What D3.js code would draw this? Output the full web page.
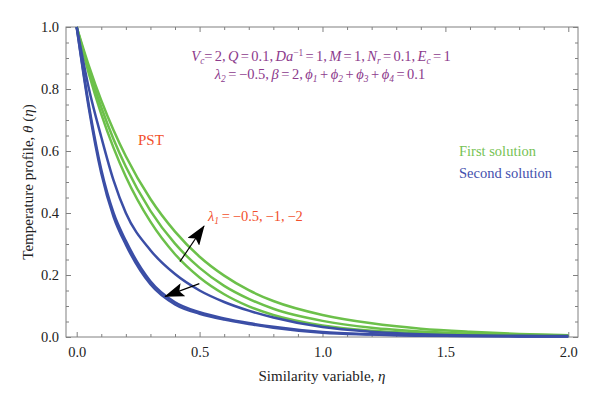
<!DOCTYPE html>
<html>
<head>
<meta charset="utf-8">
<script src="https://cdn.jsdelivr.net/npm/d3@7"></script>
<style>
  body { margin: 0; background: #fff; }
  svg { display: block; font-family: "Liberation Serif", "DejaVu Serif", serif; }
</style>
</head>
<body>
<div id="chart"></div>
<script>
// similarity variable grid
var eta = [0, 0.05, 0.1, 0.15, 0.2, 0.3, 0.4, 0.5, 0.6, 0.7, 0.8, 1.0, 1.2, 1.4, 1.6, 1.8, 2.0];

// first solution (green), lambda1 = -0.5, -1, -2
var first1 = [1, 0.874, 0.763, 0.667, 0.583, 0.445, 0.340, 0.259, 0.198, 0.151, 0.116, 0.071, 0.044, 0.027, 0.017, 0.010, 0.006];
var first2 = [1, 0.861, 0.741, 0.638, 0.549, 0.407, 0.301, 0.223, 0.165, 0.123, 0.091, 0.052, 0.030, 0.018, 0.011, 0.007, 0.005];
var first3 = [1, 0.848, 0.719, 0.610, 0.517, 0.372, 0.267, 0.192, 0.138, 0.099, 0.071, 0.037, 0.020, 0.012, 0.008, 0.005, 0.004];

// second solution (blue)
var second1 = [1, 0.800, 0.645, 0.505, 0.400, 0.280, 0.203, 0.150, 0.113, 0.085, 0.063, 0.032, 0.017, 0.009, 0.005, 0.004, 0.003];
var second2 = [1, 0.745, 0.540, 0.400, 0.310, 0.180, 0.112, 0.080, 0.060, 0.045, 0.033, 0.016, 0.009, 0.005, 0.003, 0.002, 0.002];
var second3 = [1, 0.735, 0.528, 0.388, 0.298, 0.170, 0.105, 0.075, 0.056, 0.042, 0.030, 0.014, 0.008, 0.004, 0.003, 0.002, 0.002];

var xMajor = [0, 0.5, 1.0, 1.5, 2.0];
var yMajor = [0, 0.2, 0.4, 0.6, 0.8, 1.0];

var green = "#6cc04a", blue = "#3b4ea6", purple = "#8c3a8c", red = "#f2502c", axisCol = "#808080";

var W = 600, H = 399;
var margin = {top: 27, left: 66, right: 22, bottom: 62},
    width = W - margin.left - margin.right,
    height = H - margin.top - margin.bottom;

var svg = d3.select("#chart").append("svg")
    .attr("width", W)
    .attr("height", H);

var g = svg.append("g")
    .attr("transform", "translate(" + margin.left + "," + margin.top + ")");

var x = d3.scaleLinear().domain([-0.0435, 2.0395]).range([0, width]);
var y = d3.scaleLinear().domain([0, 1]).range([height, 0]);

var xMinor = d3.range(0, 2.01, 0.1).filter(function(v) { return Math.abs(v * 2 - Math.round(v * 2)) > 1e-6; });
var yMinor = d3.range(0, 1.001, 0.05).filter(function(v) { return Math.abs(v * 5 - Math.round(v * 5)) > 1e-6; });

// axes: major + minor ticks on all four sides, pointing inward
function ticks(axis, vals, size, labels) {
    return axis.tickValues(vals).tickSize(size).tickSizeOuter(0)
        .tickFormat(labels ? d3.format(".1f") : "");
}

var sides = [
    {mk: function() { return d3.axisBottom(x); }, tr: "translate(0," + height + ")", maj: xMajor, min: xMinor, lab: true, cls: "bottom"},
    {mk: function() { return d3.axisTop(x); }, tr: null, maj: xMajor, min: xMinor, lab: false, cls: "top"},
    {mk: function() { return d3.axisLeft(y); }, tr: null, maj: yMajor, min: yMinor, lab: true, cls: "left"},
    {mk: function() { return d3.axisRight(y); }, tr: "translate(" + width + ",0)", maj: yMajor, min: yMinor, lab: false, cls: "right"}
];
sides.forEach(function(s) {
    var maj = g.append("g").attr("class", "axis " + s.cls).call(ticks(s.mk(), s.maj, -5, s.lab));
    var min = g.append("g").attr("class", "axis").call(ticks(s.mk(), s.min, -3, false));
    if (s.tr) { maj.attr("transform", s.tr); min.attr("transform", s.tr); }
});

g.selectAll(".axis .domain").remove();
g.selectAll(".axis line").attr("stroke", axisCol).attr("stroke-width", 1);
g.selectAll(".axis text")
    .attr("font-family", "Liberation Serif, serif")
    .attr("font-size", 14.5)
    .attr("fill", "#222");
// labels sit outside the frame
g.select(".axis.bottom").selectAll("text").attr("y", 10);
g.select(".axis.left").selectAll("text").attr("x", -7);

g.append("rect")
    .attr("width", width)
    .attr("height", height)
    .attr("fill", "none")
    .attr("stroke", axisCol)
    .attr("stroke-width", 1);

// curves
var line = d3.line()
    .x(function(d) { return x(d[0]); })
    .y(function(d) { return y(d[1]); })
    .curve(d3.curveMonotoneX);

var series = [
    {v: first1, c: green}, {v: first2, c: green}, {v: first3, c: green},
    {v: second1, c: blue}, {v: second2, c: blue}, {v: second3, c: blue}
];

g.selectAll(".curve")
    .data(series)
    .enter().append("path")
    .attr("class", "curve")
    .attr("fill", "none")
    .attr("stroke", function(d) { return d.c; })
    .attr("stroke-width", 2.5)
    .attr("d", function(d) { return line(eta.map(function(e, i) { return [e, d.v[i]]; })); });

// arrows
svg.append("defs").append("marker")
    .attr("id", "head")
    .attr("markerUnits", "userSpaceOnUse")
    .attr("viewBox", "0 0 20 14")
    .attr("markerWidth", 20)
    .attr("markerHeight", 14)
    .attr("refX", 19)
    .attr("refY", 7)
    .attr("orient", "auto")
    .append("path")
    .attr("d", "M0,0 L20,7 L0,14 L4,7 Z")
    .attr("fill", "#000");

var arrows = [
    {from: [0.42, 0.243], to: [0.518, 0.358]},
    {from: [0.499, 0.172], to: [0.36, 0.131]}
];
g.selectAll(".arrow")
    .data(arrows)
    .enter().append("line")
    .attr("x1", function(d) { return x(d.from[0]); })
    .attr("y1", function(d) { return y(d.from[1]); })
    .attr("x2", function(d) { return x(d.to[0]); })
    .attr("y2", function(d) { return y(d.to[1]); })
    .attr("stroke", "#000")
    .attr("stroke-width", 1.2)
    .attr("marker-end", "url(#head)");

// rich text: parts = [text, style] with style "", "i", "sub", "sup"
function rich(sel, px, py, parts, color, size, anchor, ws) {
    var t = sel.append("text")
        .attr("x", px).attr("y", py)
        .attr("fill", color)
        .attr("font-size", size)
        .attr("text-anchor", anchor || "start");
    if (ws) t.attr("word-spacing", ws);
    var shift = 0;
    parts.forEach(function(p) {
        var s = t.append("tspan").text(p[0]);
        var target = p[1] === "sub" ? 3 : (p[1] === "sup" ? -5 : 0);
        if (target !== shift) { s.attr("dy", target - shift); shift = target; }
        if (p[1] === "i" || p[1] === "sub") s.attr("font-style", "italic");
        if (p[1] === "sub" || p[1] === "sup") s.attr("font-size", size * 0.65);
    });
    return t;
}

rich(svg, 321, 61, [
    ["V", "i"], ["c", "sub"], ["= 2, ", ""], ["Q", "i"], [" = 0.1, ", ""], ["Da", "i"], ["\u22121", "sup"],
    [" = 1, ", ""], ["M", "i"], [" = 1, ", ""], ["N", "i"], ["r", "sub"], [" = 0.1, ", ""],
    ["E", "i"], ["c", "sub"], [" = 1", ""]
], purple, 14.5, "middle", -1.3);

rich(svg, 320, 79, [
    ["\u03bb", "i"], ["2", "sub"], [" = \u22120.5, ", ""], ["\u03b2", "i"], [" = 2, ", ""],
    ["\u03d5", "i"], ["1", "sub"], [" + ", ""], ["\u03d5", "i"], ["2", "sub"], [" + ", ""],
    ["\u03d5", "i"], ["3", "sub"], [" + ", ""], ["\u03d5", "i"], ["4", "sub"], [" = 0.1", ""]
], purple, 14.5, "middle", -1.1);

rich(svg, 208, 221, [
    ["\u03bb", "i"], ["1", "sub"], [" = \u22120.5, \u22121, \u22122", ""]
], red, 14.5, "start", -0.8);

svg.append("text").attr("x", 138).attr("y", 145).attr("fill", red).attr("font-size", 15).text("PST");
svg.append("text").attr("x", 459).attr("y", 156).attr("fill", "#76c253").attr("font-size", 14.5).text("First solution");
svg.append("text").attr("x", 459).attr("y", 178).attr("fill", "#4450ad").attr("font-size", 14.5).text("Second solution");

// axis titles
rich(svg, 322, 381, [["Similarity variable, ", ""], ["\u03b7", "i"]], "#222", 15, "middle");
rich(svg.append("g").attr("transform", "translate(33,182) rotate(-90)"), 0, 0,
    [["Temperature profile, ", ""], ["\u03b8", "i"], [" (", ""], ["\u03b7", "i"], [")", ""]], "#222", 15, "middle");
</script>
</body>
</html>
